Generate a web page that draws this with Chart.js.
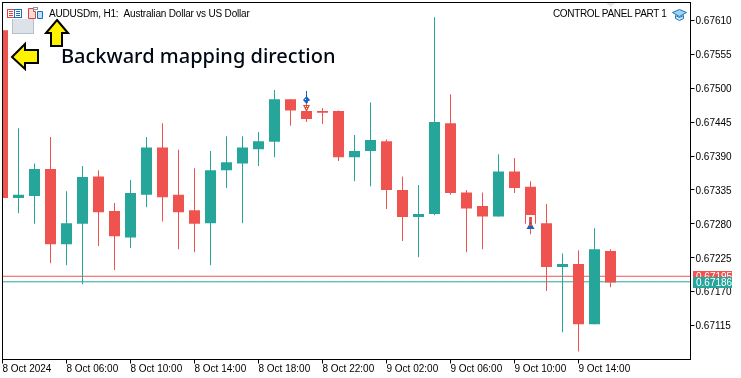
<!DOCTYPE html>
<html>
<head>
<meta charset="utf-8">
<script src="https://cdn.jsdelivr.net/npm/chart.js@4"></script>
<style>
  html, body { margin: 0; padding: 0; background: #fff; }
  #wrap { width: 741px; height: 378px; }
</style>
</head>
<body>
<div id="wrap"><canvas id="chart" width="741" height="378"></canvas></div>
<script>
// hourly AUDUSDm candles
const opens  = [0.67594,0.67322,0.67325,0.67369,0.67247,0.67280,0.67357,0.67301,0.67258,0.67327,0.67404,0.67327,0.67302,0.67281,0.67367,0.67378,0.67401,0.67413,0.67482,0.67463,0.67463,0.67463,0.67388,0.67398,0.67414,0.67335,0.67291,0.67296,0.67443,0.67331,0.67309,0.67292,0.67365,0.67340,0.67281,0.67210,0.67215,0.67117,0.67236];
const highs  = [0.67594,0.67435,0.67378,0.67421,0.67333,0.67374,0.67367,0.67314,0.67351,0.67421,0.67443,0.67400,0.67370,0.67398,0.67422,0.67422,0.67429,0.67497,0.67482,0.67481,0.67468,0.67464,0.67424,0.67477,0.67417,0.67357,0.67343,0.67615,0.67490,0.67335,0.67331,0.67393,0.67387,0.67349,0.67312,0.67232,0.67237,0.67273,0.67239];
const lows   = [0.67322,0.67297,0.67280,0.67216,0.67213,0.67182,0.67244,0.67205,0.67241,0.67307,0.67284,0.67239,0.67234,0.67213,0.67338,0.67281,0.67374,0.67388,0.67439,0.67445,0.67442,0.67382,0.67349,0.67341,0.67304,0.67252,0.67226,0.67294,0.67327,0.67234,0.67239,0.67292,0.67330,0.67263,0.67171,0.67104,0.67073,0.67117,0.67177];
const closes = [0.67322,0.67327,0.67369,0.67247,0.67281,0.67356,0.67299,0.67260,0.67330,0.67404,0.67323,0.67299,0.67280,0.67367,0.67380,0.67404,0.67414,0.67482,0.67464,0.67450,0.67460,0.67388,0.67398,0.67416,0.67335,0.67291,0.67296,0.67445,0.67330,0.67305,0.67292,0.67365,0.67338,0.67280,0.67210,0.67215,0.67117,0.67239,0.67185];

const tickLabels = ['8 Oct 2024','8 Oct 06:00','8 Oct 10:00','8 Oct 14:00','8 Oct 18:00','8 Oct 22:00','9 Oct 02:00','9 Oct 06:00','9 Oct 10:00','9 Oct 14:00'];
const priceTicks = [0.67610,0.67555,0.67500,0.67445,0.67390,0.67335,0.67280,0.67225,0.67170,0.67115];
const bidPrice = 0.67195;
const askPrice = 0.67186;
const slotCount = 44; // the chart has empty room right of the last candle
const categories = Array.from({ length: slotCount }, (_, i) => String(i));

const GREEN = '#26a69a';
const RED = '#ef5350';
const candleColors = closes.map((c, i) => (c >= opens[i] ? GREEN : RED));
const axisFont = { family: 'Liberation Sans', size: 10 };

function poly(ctx, pts, fill, stroke, lw) {
  ctx.beginPath();
  pts.forEach((p, i) => (i ? ctx.lineTo(p[0], p[1]) : ctx.moveTo(p[0], p[1])));
  ctx.closePath();
  ctx.fillStyle = fill;
  ctx.fill();
  if (stroke) {
    ctx.lineWidth = lw;
    ctx.strokeStyle = stroke;
    ctx.lineJoin = 'miter';
    ctx.stroke();
  }
}

function priceTag(ctx, y, color, text) {
  ctx.fillStyle = color;
  ctx.fillRect(693, Math.round(y) - 5, 39, 11);
  ctx.fillStyle = '#fff';
  ctx.font = '10px "Liberation Sans"';
  ctx.textBaseline = 'middle';
  ctx.textAlign = 'left';
  ctx.fillText(text, 696, Math.round(y) + 1);
}

const overlay = {
  id: 'overlay',
  afterDraw(chart) {
    const ctx = chart.ctx;
    const area = chart.chartArea;
    const yScale = chart.scales.y;
    ctx.save();

    // frame round the plot
    ctx.strokeStyle = '#000';
    ctx.lineWidth = 1;
    ctx.strokeRect(area.left, area.top, area.right - area.left, area.bottom - area.top);

    // bid and ask tags on the price axis
    priceTag(ctx, yScale.getPixelForValue(bidPrice), RED, bidPrice.toFixed(5));
    priceTag(ctx, yScale.getPixelForValue(askPrice), GREEN, askPrice.toFixed(5));

    // grey panel button and the small marker at the top edge
    ctx.fillStyle = '#dde2ea';
    ctx.fillRect(12, 12, 22, 21);
    ctx.strokeStyle = '#b4c0ca';
    ctx.strokeRect(12.5, 12.5, 21, 21);
    poly(ctx, [[606, 3], [615, 3], [610.5, 7]], '#e4e6ea');

    // chart window icons
    ctx.fillStyle = '#fff';
    ctx.fillRect(7, 8, 36, 11);
    ctx.strokeStyle = '#e0433a';
    ctx.strokeRect(7.5, 9.5, 7, 8);
    ctx.strokeStyle = '#1c6fc0';
    ctx.strokeRect(14.5, 9.5, 7, 8);
    ctx.fillStyle = '#e0433a';
    [11, 13, 15].forEach(y => ctx.fillRect(9, y, 4, 1));
    ctx.fillStyle = '#1c6fc0';
    [11, 13, 15].forEach(y => ctx.fillRect(16, y, 4, 1));
    poly(ctx, [[28.5, 8.5], [33.5, 8.5], [33.5, 11.5], [35.5, 11.5], [35.5, 18.5], [28.5, 18.5]], '#fbdcd6', '#e0433a', 1);
    poly(ctx, [[37.5, 11.5], [42.5, 11.5], [42.5, 18.5], [37.5, 18.5]], '#bfe0f5', '#1c6fc0', 1);
    ctx.strokeStyle = '#8a949c';
    ctx.strokeRect(33.5, 7.5, 4, 2);

    // yellow arrows
    poly(ctx, [[57, 20], [68, 33], [62, 33], [62, 46], [51, 46], [51, 33], [46, 33]], '#fff200', '#000', 2);
    poly(ctx, [[12, 57], [25, 44], [25, 50], [38, 50], [38, 63], [25, 63], [25, 69]], '#fff200', '#000', 2);

    // captions
    ctx.textBaseline = 'alphabetic';
    ctx.textAlign = 'left';
    ctx.fillStyle = '#000';
    ctx.font = '10px "Liberation Sans"';
    ctx.letterSpacing = '-0.19px';
    ctx.fillText('AUDUSDm, H1:  Australian Dollar vs US Dollar', 49, 17);
    ctx.letterSpacing = '-0.35px';
    ctx.fillText('CONTROL PANEL PART 1', 553, 17);
    ctx.letterSpacing = '0px';
    ctx.font = '500 20px "Noto Sans"';
    ctx.fillStyle = '#000814';
    ctx.fillText('Backward mapping direction', 61, 63);

    // mortarboard icon
    poly(ctx, [[672.5, 12.5], [679.5, 9.5], [686.5, 12.5], [679.5, 16.5]], '#9fd3f2', '#1c74b8', 1);
    poly(ctx, [[675.5, 15.5], [679.5, 17.5], [683.5, 15.5], [683.5, 18.5], [679.5, 20.5], [675.5, 18.5]], '#cfe8f8', '#1c74b8', 1);

    // trade markers
    const xScale = chart.scales.x;
    const x1 = Math.floor(xScale.getPixelForValue(19));
    ctx.fillStyle = '#1565c0';
    ctx.fillRect(x1, 91, 1, 6);
    poly(ctx, [[x1 + 0.5, 96], [x1 + 4, 100], [x1 + 0.5, 104], [x1 - 3, 100]], '#1565c0');
    ctx.fillStyle = '#fff';
    [[x1 - 1, 99], [x1 + 2, 101], [x1 - 2, 103]].forEach(p => ctx.fillRect(p[0], p[1], 1, 1));
    poly(ctx, [[x1 - 3, 105], [x1 + 4, 105], [x1 + 0.5, 112]], '#e8482c');
    ctx.fillStyle = '#fff';
    [[x1 - 1, 106], [x1 + 1, 106], [x1, 108]].forEach(p => ctx.fillRect(p[0], p[1], 1, 1));

    const x2 = Math.floor(xScale.getPixelForValue(33));
    ctx.fillStyle = '#fff';
    ctx.fillRect(x2 - 4, 215, 9, 11);
    ctx.fillStyle = RED;
    ctx.fillRect(x2 - 1, 217, 3, 7);
    ctx.fillStyle = '#e8482c';
    ctx.fillRect(x2, 217, 1, 8);
    poly(ctx, [[x2 - 3.5, 229], [x2 + 4.5, 229], [x2 + 0.5, 222]], '#1565c0');
    ctx.fillStyle = '#e8482c';
    ctx.fillRect(x2 - 1, 224, 3, 2);
    ctx.restore();
  }
};

new Chart(document.getElementById('chart'), {
  type: 'bar',
  data: {
    labels: categories,
    datasets: [
      {
        label: 'Body',
        data: opens.map((o, i) => [o, closes[i]]),
        backgroundColor: candleColors,
        barThickness: 11,
        inflateAmount: 0,
        grouped: false,
        order: 1
      },
      {
        label: 'Wick',
        data: lows.map((l, i) => [l, highs[i]]),
        backgroundColor: candleColors,
        barThickness: 1,
        inflateAmount: 0,
        grouped: false,
        order: 2
      },
      {
        type: 'line',
        label: 'Bid',
        data: categories.map(() => bidPrice),
        borderColor: RED,
        borderWidth: 1,
        pointRadius: 0,
        order: 3
      },
      {
        type: 'line',
        label: 'Ask',
        data: categories.map(() => askPrice),
        borderColor: GREEN,
        borderWidth: 1,
        pointRadius: 0,
        order: 3
      }
    ]
  },
  options: {
    responsive: false,
    animation: false,
    layout: { autoPadding: false, padding: { left: 2.5, top: 2.5, right: 0, bottom: 0 } },
    plugins: { legend: { display: false }, tooltip: { enabled: false } },
    scales: {
      x: {
        offset: false,
        grid: { drawOnChartArea: false, tickLength: 4, tickColor: '#000', offset: false },
        border: { color: '#000' },
        afterBuildTicks(scale) {
          scale.ticks = scale.ticks.filter(t => t.value % 4 === 0 && t.value / 4 < tickLabels.length);
        },
        afterFit(scale) {
          scale.height = 18.5;
          scale.paddingLeft = 0;
          scale.paddingRight = 0;
        },
        ticks: {
          autoSkip: false,
          maxRotation: 0,
          align: 'start',
          padding: 0,
          color: '#000',
          font: axisFont,
          callback: value => tickLabels[value / 4]
        }
      },
      y: {
        position: 'right',
        min: 0.67060,
        max: 0.67639,
        grid: { drawOnChartArea: false, tickLength: 4, tickColor: '#000' },
        border: { color: '#000' },
        afterBuildTicks(scale) {
          scale.ticks = priceTicks.map(value => ({ value }));
        },
        afterFit(scale) {
          scale.width = 50.5;
          scale.paddingTop = 0;
          scale.paddingBottom = 0;
        },
        ticks: {
          padding: 1,
          labelOffset: 1,
          color: '#000',
          font: axisFont,
          callback: value => value.toFixed(5)
        }
      }
    }
  },
  plugins: [overlay]
});
</script>
</body>
</html>
